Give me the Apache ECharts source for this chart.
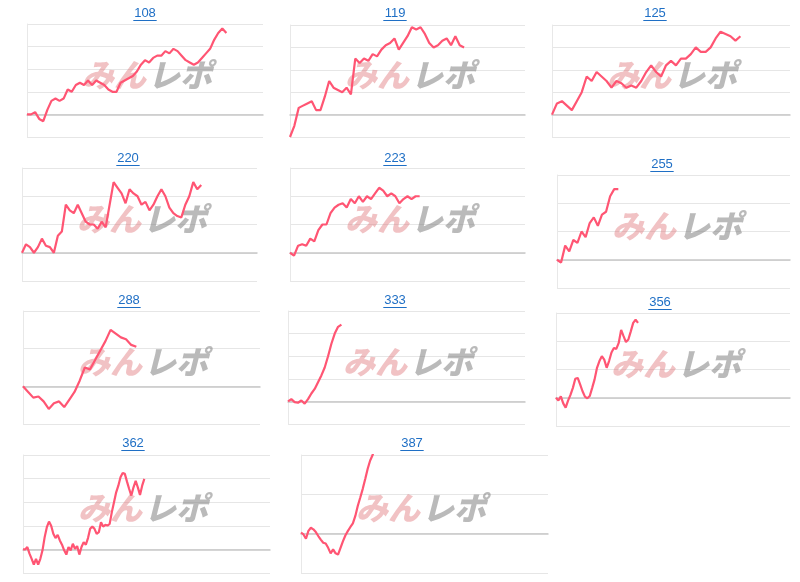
<!DOCTYPE html>
<html>
<head>
<meta charset="utf-8">
<script src="https://cdn.jsdelivr.net/npm/echarts@6/dist/echarts.min.js"></script>
<style>
  html, body { margin: 0; padding: 0; background: #fff; }
  #chart { width: 800px; height: 582px; }
</style>
</head>
<body>
<div id="chart"></div>
<script>
// panel names
const names = ['108', '119', '125', '220', '223', '255', '288', '333', '356', '362', '387'];

// series values, in gridline units (0 = baseline)
const s108 = [0, 0, .1, -.2, -.3, .2, .6, .7, .6, .7, 1.1, 1.0, 1.3, 1.4, 1.3, 1.5, 1.3, 1.5, 1.4, 1.3, 1.1, 1.0, 1.0, 1.4, 1.5,
  1.6, 1.7, 1.9, 2.2, 2.4, 2.3, 2.5, 2.6, 2.6, 2.8, 2.7, 2.9, 2.8, 2.6, 2.4, 2.3, 2.2, 2.3, 2.5, 2.7, 2.9, 3.3, 3.6, 3.8, 3.6];
const s119 = [-1, -.5, .3, .4, .5, .6, .2, .2, .8, 1.5, 1.2, 1.1, 1, 1.2, .9, 2.5, 2.3, 2.5, 2.4, 2.7, 2.6, 2.9, 3.1, 3.2, 3.4,
  2.9, 3.2, 3.5, 3.9, 3.8, 3.9, 3.6, 3.2, 3, 3.1, 3.3, 3.4, 3.1, 3.5, 3.1, 3];
const s125 = [0, .5, .6, .4, .2, .6, 1, 1.7, 1.5, 1.9, 1.7, 1.5, 1.2, 1.5, 1.4, 1.2, 1.3, 1.2, 1.5, 1.9, 2.2, 1.9, 1.7, 2.2, 2.4,
  2.2, 2.5, 2.5, 2.7, 3, 2.8, 2.8, 3, 3.4, 3.7, 3.6, 3.5, 3.3, 3.5];
const s220 = [0, .3, .2, 0, .2, .5, .25, .2, 0, .6, .75, 1.7, 1.5, 1.4, 1.7, 1.4, 1.1, 1, 1, .85, 1.1, .9, 1.7, 2.5, 2.3, 2.1,
  1.75, 2.25, 2.1, 2, 1.7, 1.8, 1.5, 1.7, 2, 2.25, 2, 1.6, 1.4, 1.3, 1.25, 1.7, 2, 2.5, 2.25, 2.4];
const s223 = [0, -.1, .25, .3, .25, .5, .4, .8, 1, 1, 1.4, 1.6, 1.7, 1.75, 1.6, 1.9, 1.75, 2, 1.8, 2, 1.9, 2.1, 2.3, 2.2, 2,
  2.1, 2, 1.75, 1.9, 2, 1.9, 2, 2];
const s255 = [0, -.1, .5, .3, .7, .6, 1, .8, 1.3, 1.5, 1.2, 1.6, 1.7, 2.25, 2.5, 2.5];
const s288 = [0, -.15, -.3, -.27, -.4, -.6, -.45, -.4, -.55, -.35, -.15, .15, .5, .45, .7, .95, 1.2, 1.5, 1.4, 1.3, 1.25, 1.1, 1.05];
const s333 = [0, .1, -.03, -.06, .04, -.1, .1, .35, .55, .85, 1.15, 1.5, 2.0, 2.55, 3.0, 3.3, 3.4];
const s356 = [0, -.1, .05, -.2, -.35, -.1, .1, .35, .67, .7, .47, .23, .04, -.02, .06, .35, .65, 1.06, 1.3, 1.47, 1.35, 1.06,
  1.3, 1.6, 1.76, 1.73, 1.94, 2.4, 2.18, 1.97, 2.06, 2.35, 2.65, 2.76, 2.65];
const s362 = [0, 0, .1, -.18, -.4, -.65, -.4, -.65, -.4, -.04, .52, .94, 1.18, 1.0, .66, .48, .62, .38, .2, -.04, -.22, .1,
  -.04, .24, .03, .14, -.22, .1, .31, .2, .48, .87, .97, .87, .66, .73, 1.15, .97, 1.04, 1.01, 1.08, 1.58, 2.0, 2.42, 2.7,
  3.06, 3.24, 3.2, 2.87, 2.56, 2.28, 2.63, 2.9, 2.63, 2.31, 2.7, 2.99];
const s387 = [.03, -.02, -.13, .07, .15, .11, .04, -.06, -.15, -.23, -.25, -.36, -.5, -.4, -.5, -.53, -.36, -.19, -.04, .07,
  .17, .26, .45, .71, .92, 1.14, 1.39, 1.65, 1.86, 2.0, 2.2];

const seriesData = [s108, s119, s125, s220, s223, s255, s288, s333, s356, s362, s387];
// gridline count above the baseline, and x slots per panel
const yTops = [4, 4, 4, 3, 3, 3, 2, 4, 3, 4, 2];
const slots = [59, 55, 49, 60, 59, 58, 47, 72, 98, 115, 101];

// panel boxes: [left, top, right, bottom, titleX, titleY]
const boxes = [
  [27, 24, 263, 137, 145, 13],
  [290, 25, 525, 137, 395, 13],
  [552, 25, 790, 137, 655, 13],
  [22, 168, 257, 281, 128, 158],
  [290, 168, 525, 281, 395, 158],
  [557, 175, 790, 288, 662, 164],
  [23, 311, 260, 424, 129, 300],
  [288, 311, 525, 424, 395, 300],
  [556, 313, 790, 426, 660, 302],
  [23, 455, 270, 573, 133, 443],
  [301, 455, 548, 573, 412, 443]
];

const chart = echarts.init(document.getElementById('chart'));
const grids = [], xAxes = [], yAxes = [], series = [], graphics = [];

names.forEach(function (name, i) {
  const b = boxes[i];
  grids.push({ show: false, left: b[0], top: b[1], width: b[2] - b[0], height: b[3] - b[1] });
  xAxes.push({
    type: 'category', gridIndex: i, boundaryGap: false,
    data: Array.from({ length: slots[i] }, (_, k) => k),
    axisLine: { onZero: true, lineStyle: { color: '#c8c8c8', width: 1.5 } },
    axisTick: { show: false }, axisLabel: { show: false }, splitLine: { show: false }
  });
  yAxes.push({
    type: 'value', gridIndex: i, position: 'left', min: -1, max: yTops[i], interval: 1,
    axisLine: { show: true, onZero: false, lineStyle: { color: '#e8e8e8' } },
    axisTick: { show: false }, axisLabel: { show: false },
    splitLine: { lineStyle: { color: '#e6e6e6' } }
  });
  series.push({
    type: 'line', xAxisIndex: i, yAxisIndex: i, data: seriesData[i],
    symbol: 'none', clip: true, z: 3,
    lineStyle: { color: '#ff5573', width: 2.2 }
  });

  // title with underline
  const w = name.length * 7.8;
  graphics.push({
    type: 'text', x: b[4], y: b[5], z: 10,
    style: { text: name, fill: '#1f6fc5', font: '13px "Liberation Sans", Arial', align: 'center', verticalAlign: 'middle' }
  });
  graphics.push({
    type: 'line', z: 10,
    shape: { x1: b[4] - w / 2, y1: b[5] + 7.5, x2: b[4] + w / 2, y2: b[5] + 7.5 },
    style: { stroke: '#1f6fc5', lineWidth: 1 }
  });

  // watermark
  const cx = b[0] + 55, cy = (b[1] + b[3]) / 2 - 6;
  graphics.push({
    type: 'text', x: cx, y: cy, z: 1,
    style: { text: 'みん', fill: 'rgba(225,120,125,0.45)', font: 'italic 900 32px "Noto Sans CJK JP"', verticalAlign: 'middle' }
  });
  graphics.push({
    type: 'text', x: cx + 66, y: cy, z: 1,
    style: { text: 'レポ', fill: 'rgba(130,130,130,0.55)', font: 'italic 900 32px "Noto Sans CJK JP"', verticalAlign: 'middle' }
  });
});

chart.setOption({
  animation: false,
  grid: grids,
  xAxis: xAxes,
  yAxis: yAxes,
  series: series,
  graphic: graphics
});
</script>
</body>
</html>
